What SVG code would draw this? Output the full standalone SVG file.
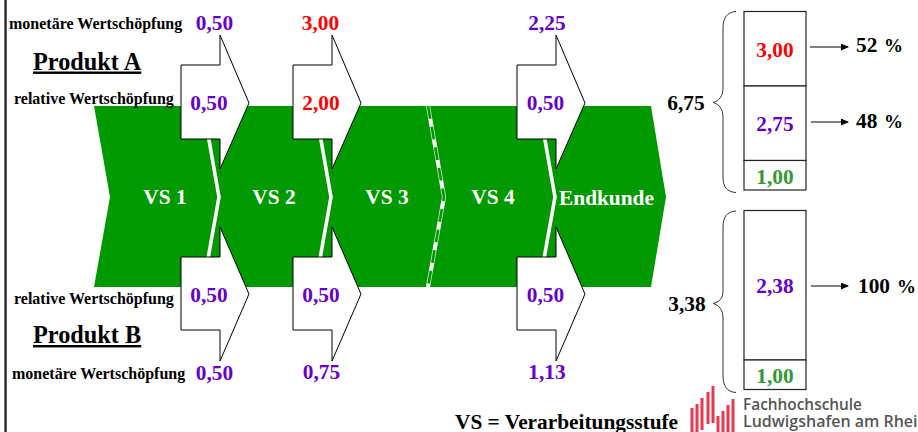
<svg xmlns="http://www.w3.org/2000/svg" width="918" height="432" viewBox="0 0 918 432">
<style>
text{font-family:"Liberation Serif","Times New Roman",serif;font-weight:700}
.v{font-size:21.33px;text-anchor:middle}
.p{fill:#6600cc}.r{fill:#ff0000}.g{fill:#339933}.k{fill:#000}
.w{fill:#fff;font-size:21.33px;text-anchor:middle}
.l{font-size:16px}
.h{font-size:24.3px;text-decoration:underline}
.s{font-size:21.33px}
.pc{font-size:19px}
.a{fill:#fff;stroke:#000;stroke-width:1}
.box{fill:#fff;stroke:#222;stroke-width:1.2}
.sep{fill:none;stroke:#fff;stroke-width:3.6}
.br{fill:none;stroke:#333;stroke-width:1}
.ln{stroke:#000;stroke-width:1;marker-end:url(#m)}
.bar{stroke:#e8384f;stroke-width:3;fill:none}
.logo{font-family:"Open Sans","Noto Sans",sans-serif;font-weight:600;font-size:15.4px;fill:#555}
</style>
<defs>
<marker id="m" markerWidth="8" markerHeight="7" refX="7" refY="3.500" orient="auto" markerUnits="userSpaceOnUse"><path d="M0 0L8 3.500L0 7Z" fill="#000"/></marker>
<polygon id="up" points="0,30 39,30 39,0 68,68 39,134 39,104 0,104"/>
<polygon id="dn" points="0,0 39,0 39,-30 68,37 39,104 39,73 0,73"/>
</defs>
<rect width="918" height="432" fill="#fff"/>
<rect x="4.400" y="0" width="2.300" height="432" fill="#222"/>
<g id="band"><polygon points="94,106 651,106 666,197 651,287 94,287 110,197" fill="#009900"/></g>
<g id="connectors">
<polyline class="sep" points="203,106 219,197 203,287"/>
<polyline class="sep" points="315,106 331,197 315,287"/>
<polyline class="sep" points="539,106 555,197 539,287"/>
<polyline points="428,106 444,197 428,287" fill="none" stroke="#fff" stroke-width="4.200" stroke-opacity=".8"/>
<polyline points="428,106 444,197 428,287" fill="none" stroke="#009900" stroke-width="2.600"/>
<polyline points="428,106 444,197 428,287" fill="none" stroke="#fff" stroke-width="3.400" stroke-dasharray="8 12.900" stroke-dashoffset="-13"/>
<line class="ln" x1="810" y1="47" x2="848" y2="47"/>
<line class="ln" x1="811" y1="122" x2="848" y2="122"/>
<line class="ln" x1="811" y1="286" x2="848" y2="286"/>
<path class="br" d="M736 11.500C727 12 723 18 723 28V88C723 96 719 101 713 102.500C719 104 723 109 723 117V177C723 187 727 192 736 192.500"/>
<path class="br" d="M736 211C727 211.500 723 217 723 227V291C723 299 719 302 713 303.500C719 305 723 310 723 318V376C723 386 727 392 736 392.500"/>
</g>
<g id="vs1"><text class="w" x="165" y="203.500">VS 1</text></g>
<g id="vs2"><text class="w" x="274" y="203.500">VS 2</text></g>
<g id="vs3"><text class="w" x="387" y="203.500">VS 3</text></g>
<g id="vs4"><text class="w" x="493" y="203.500">VS 4</text></g>
<g id="endkunde"><text class="w" x="606.500" y="204.500">Endkunde</text></g>
<g id="a1"><use href="#up" class="a" x="181" y="35"/><text class="v p" x="209" y="109.500">0,50</text></g>
<g id="a2"><use href="#up" class="a" x="293" y="35"/><text class="v r" x="321" y="109.500">2,00</text></g>
<g id="a4"><use href="#up" class="a" x="517" y="35"/><text class="v p" x="545.500" y="109.500">0,50</text></g>
<g id="b1"><use href="#dn" class="a" x="181" y="257"/><text class="v p" x="209" y="301.500">0,50</text></g>
<g id="b2"><use href="#dn" class="a" x="293" y="257"/><text class="v p" x="321" y="301.500">0,50</text></g>
<g id="b4"><use href="#dn" class="a" x="517" y="257"/><text class="v p" x="545.500" y="301.500">0,50</text></g>
<g id="labels">
<text class="l" x="9" y="29">monetäre Wertschöpfung</text>
<text class="l" x="14" y="103.500">relative Wertschöpfung</text>
<text class="l" x="14" y="303.500">relative Wertschöpfung</text>
<text class="l" x="12" y="379">monetäre Wertschöpfung</text>
<text class="h" x="33" y="69.500">Produkt A</text>
<text class="h" x="33" y="343">Produkt B</text>
<text class="v p" x="214.500" y="30">0,50</text>
<text class="v r" x="320.500" y="30">3,00</text>
<text class="v p" x="547" y="30">2,25</text>
<text class="v p" x="214.500" y="380">0,50</text>
<text class="v p" x="321.500" y="379">0,75</text>
<text class="v p" x="547" y="379">1,13</text>
<text class="s" x="455" y="429">VS = Verarbeitungsstufe</text>
</g>
<g id="stackA">
<rect class="box" x="744" y="11.500" width="62" height="74.500"/>
<rect class="box" x="744" y="86" width="62" height="74.500"/>
<rect class="box" x="744" y="160.500" width="62" height="29.500"/>
<text class="v r" x="775" y="57">3,00</text>
<text class="v p" x="775" y="131">2,75</text>
<text class="v g" x="775" y="183.500">1,00</text>
<text class="v k" x="686" y="110">6,75</text>
<text class="s" x="856" y="52">52 <tspan class="pc" x="884">%</tspan></text>
<text class="s" x="856" y="128">48 <tspan class="pc" x="884">%</tspan></text>
</g>
<g id="stackB">
<rect class="box" x="744" y="210.500" width="62" height="149.500"/>
<rect class="box" x="744" y="360" width="62" height="29.500"/>
<text class="v p" x="775" y="293">2,38</text>
<text class="v g" x="775" y="383">1,00</text>
<text class="v k" x="687" y="310.500">3,38</text>
<text class="s" x="858" y="293">100 <tspan class="pc" x="897">%</tspan></text>
</g>
<g id="logo">
<path class="bar" d="M692 433V408M697 433V404M702 430V398M708 424V392M713 423V386M718 433V416M723 433V411M728 433V405M733 433V399"/>
<text class="logo" x="743" y="410">Fachhochschule</text>
<text class="logo" x="743" y="427" style="font-size:16px">Ludwigshafen am Rhein</text>
</g>
</svg>
